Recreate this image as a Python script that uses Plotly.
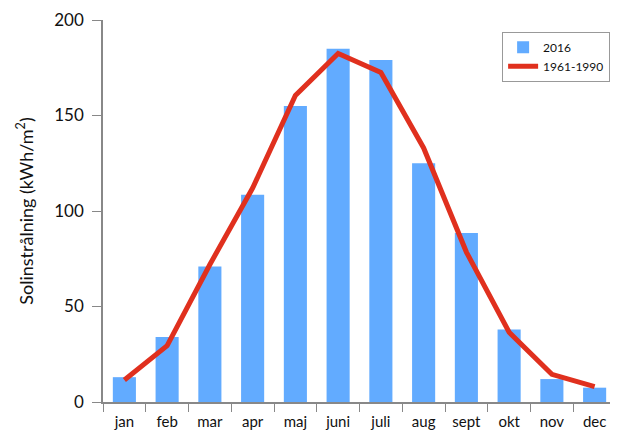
import plotly.graph_objects as go

months = ["jan", "feb", "mar", "apr", "maj", "juni", "juli", "aug", "sept", "okt", "nov", "dec"]
values_2016 = [13, 34, 71, 108.5, 155, 185, 179, 125, 88.5, 38, 12, 7.5]
values_normal = [11.5, 29.5, 72, 112, 160.5, 182.5, 172.5, 133, 78.5, 36.5, 14.5, 8]
y_ticks = [0, 50, 100, 150, 200]

FONT = "Lato"

fig = go.Figure()
fig.add_trace(go.Bar(
    x=months, y=values_2016, name="2016",
    marker=dict(color="#62abff", line=dict(width=0)),
    width=0.54,
))
fig.add_trace(go.Scatter(
    x=months, y=values_normal, name="1961-1990", mode="lines",
    line=dict(color="#e0301e", width=5),
))

fig.update_layout(
    width=610, height=428,
    margin=dict(l=95, r=2, t=12, b=34),
    paper_bgcolor="white", plot_bgcolor="white",
    font=dict(family=FONT, size=15, color="#111"),
    showlegend=True,
    legend=dict(
        x=0.778, y=0.969, xanchor="left", yanchor="top",
        bordercolor="#999", borderwidth=1, bgcolor="white",
        font=dict(family=FONT, size=12, color="#111"),
        tracegroupgap=2, itemwidth=30,
    ),
    xaxis=dict(
        tickson="boundaries", ticks="outside", ticklen=8, tickcolor="#888",
        showline=True, linecolor="#888", linewidth=1.5,
        showgrid=False, tickfont=dict(size=15), ticklabelstandoff=5,
    ),
    yaxis=dict(
        range=[0, 200], tickvals=y_ticks, ticks="outside", ticklen=9,
        tickcolor="#888", showline=True, linecolor="#888", linewidth=1.5,
        showgrid=False, zeroline=False, tickfont=dict(size=17),
        ticklabelstandoff=5,
        title=dict(text="Solinstrålning (kWh/m<sup>2</sup>)", font=dict(size=18), standoff=16),
    ),
    bargap=0.46,
)

fig.write_html("out.html")
